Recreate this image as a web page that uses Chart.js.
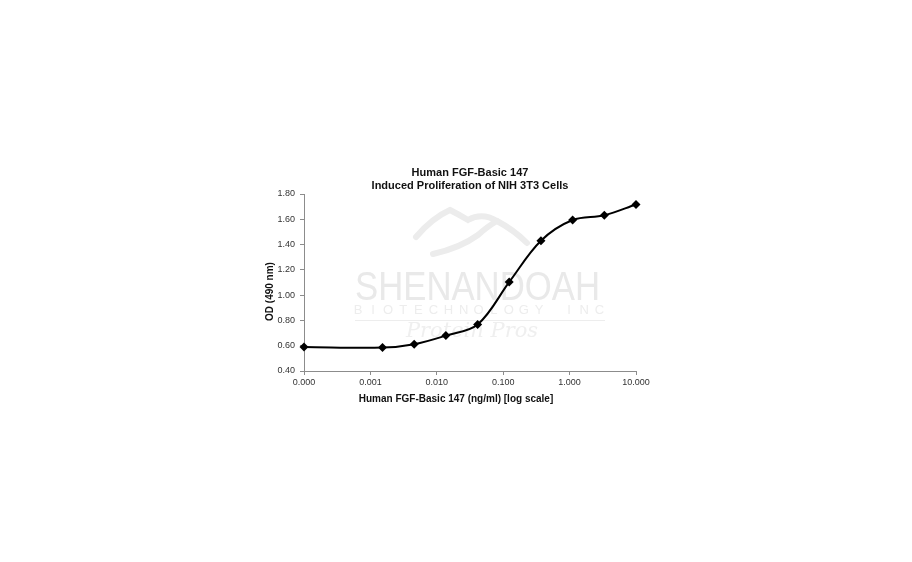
<!DOCTYPE html>
<html>
<head>
<meta charset="utf-8">
<title>FGF-Basic 147 proliferation</title>
<script src="https://cdn.jsdelivr.net/npm/chart.js@4.4.1/dist/chart.umd.min.js"></script>
<style>
  html, body { margin: 0; padding: 0; background: #fff; }
  #wrap { width: 912px; height: 562px; }
</style>
</head>
<body>
<div id="wrap"><canvas id="chart" width="912" height="562"></canvas></div>
<script>
// concentration in ng/ml (first point = blank, plotted at the 0.000 position)
const concentrations = [0.0001, 0.00152, 0.00457, 0.0137, 0.0412, 0.123, 0.370, 1.11, 3.33, 10];
const odValues = [0.59, 0.585, 0.612, 0.68, 0.768, 1.103, 1.43, 1.594, 1.632, 1.717];
const xTickValues = [0.0001, 0.001, 0.01, 0.1, 1, 10];
const xTickLabels = ["0.000", "0.001", "0.010", "0.100", "1.000", "10.000"];

const chartTitle = ["Human FGF-Basic 147", "Induced Proliferation of NIH 3T3 Cells"];
const xTitle = "Human FGF-Basic 147 (ng/ml) [log scale]";
const yTitle = "OD (490 nm)";

const FONT = "Arial, 'Liberation Sans', sans-serif";
const AXIS_COLOR = "#8c8c8c";

// light gray company logo behind the curve
const watermark = {
  id: "watermark",
  beforeDatasetsDraw(chart) {
    const ctx = chart.ctx;
    ctx.save();
    ctx.strokeStyle = "#ececec";
    ctx.fillStyle = "#e9e9e9";
    ctx.lineCap = "round";
    ctx.lineWidth = 6;
    ctx.beginPath();
    ctx.moveTo(416, 237);
    ctx.quadraticCurveTo(432, 218, 450, 210);
    ctx.quadraticCurveTo(458, 214, 468, 220);
    ctx.quadraticCurveTo(482, 212, 497, 221);
    ctx.quadraticCurveTo(514, 230, 527, 243);
    ctx.stroke();
    ctx.beginPath();
    ctx.moveTo(433, 254);
    ctx.quadraticCurveTo(460, 248, 478, 235);
    ctx.quadraticCurveTo(488, 226, 497, 221);
    ctx.stroke();

    ctx.font = "40px " + FONT;
    ctx.textBaseline = "alphabetic";
    const word = "SHENANDOAH";
    const w = ctx.measureText(word).width;
    ctx.save();
    ctx.translate(355, 300);
    ctx.scale(245 / w, 1);
    ctx.fillText(word, 0, 0);
    ctx.restore();

    ctx.fillStyle = "#ededed";
    ctx.font = "13px " + FONT;
    ctx.textBaseline = "middle";
    ctx.textAlign = "center";
    const sub = "BIOTECHNOLOGY INC";
    const step = 245 / (sub.length - 1);
    for (let i = 0; i < sub.length; i++) {
      ctx.fillText(sub[i], 358 + i * step * 0.985, 310);
    }
    ctx.fillRect(355, 320, 250, 1);

    ctx.fillStyle = "#efefef";
    ctx.font = "italic 21px 'DejaVu Serif', serif";
    ctx.fillText("Protein Pros", 472, 332);
    ctx.restore();
  }
};

// chart title and axis titles, placed like the original spreadsheet chart
const titles = {
  id: "titles",
  afterDraw(chart) {
    const ctx = chart.ctx;
    const area = chart.chartArea;
    const cx = (area.left + area.right) / 2;
    ctx.save();
    ctx.fillStyle = "#111";
    ctx.textAlign = "center";
    ctx.textBaseline = "alphabetic";
    ctx.font = "bold 11px " + FONT;
    ctx.fillText(chartTitle[0], cx, 175.5);
    ctx.fillText(chartTitle[1], cx, 189);

    ctx.font = "bold 10px " + FONT;
    ctx.textBaseline = "middle";
    ctx.fillText(xTitle, 456, 399);

    ctx.translate(270, 291.5);
    ctx.rotate(-Math.PI / 2);
    ctx.fillText(yTitle, 0, 0);
    ctx.restore();
  }
};

new Chart(document.getElementById("chart"), {
  type: "line",
  data: {
    datasets: [{
      data: concentrations.map((c, i) => ({ x: c, y: odValues[i] })),
      borderColor: "#000",
      backgroundColor: "#000",
      borderWidth: 2,
      tension: 0.35,
      pointStyle: "rectRot",
      pointRadius: 4.5,
      pointBorderWidth: 0,
      clip: false,
      fill: false
    }]
  },
  options: {
    responsive: false,
    animation: false,
    layout: { padding: { left: 0, top: 194, right: 276, bottom: 171 } },
    plugins: {
      legend: { display: false },
      tooltip: { enabled: false }
    },
    scales: {
      x: {
        type: "logarithmic",
        min: xTickValues[0],
        max: xTickValues[xTickValues.length - 1],
        afterBuildTicks(scale) {
          scale.ticks = xTickValues.map(v => ({ value: v }));
        },
        afterFit(scale) { scale.height = 20; },
        border: { color: AXIS_COLOR },
        grid: { drawOnChartArea: false, drawTicks: true, tickLength: 4, color: AXIS_COLOR },
        ticks: {
          autoSkip: false,
          maxRotation: 0,
          padding: 2,
          color: "#333",
          font: { family: FONT, size: 9 },
          callback: (v) => {
            const i = xTickValues.findIndex(t => Math.abs(t - v) / t < 1e-6);
            return i >= 0 ? xTickLabels[i] : "";
          }
        }
      },
      y: {
        min: 0.4,
        max: 1.8,
        afterFit(scale) { scale.width = 304; },
        border: { color: AXIS_COLOR },
        grid: { drawOnChartArea: false, drawTicks: true, tickLength: 4, color: AXIS_COLOR },
        ticks: {
          stepSize: 0.2,
          padding: 5,
          color: "#333",
          font: { family: FONT, size: 9 },
          callback: (v) => Number(v).toFixed(2)
        }
      }
    }
  },
  plugins: [watermark, titles]
});
</script>
</body>
</html>
